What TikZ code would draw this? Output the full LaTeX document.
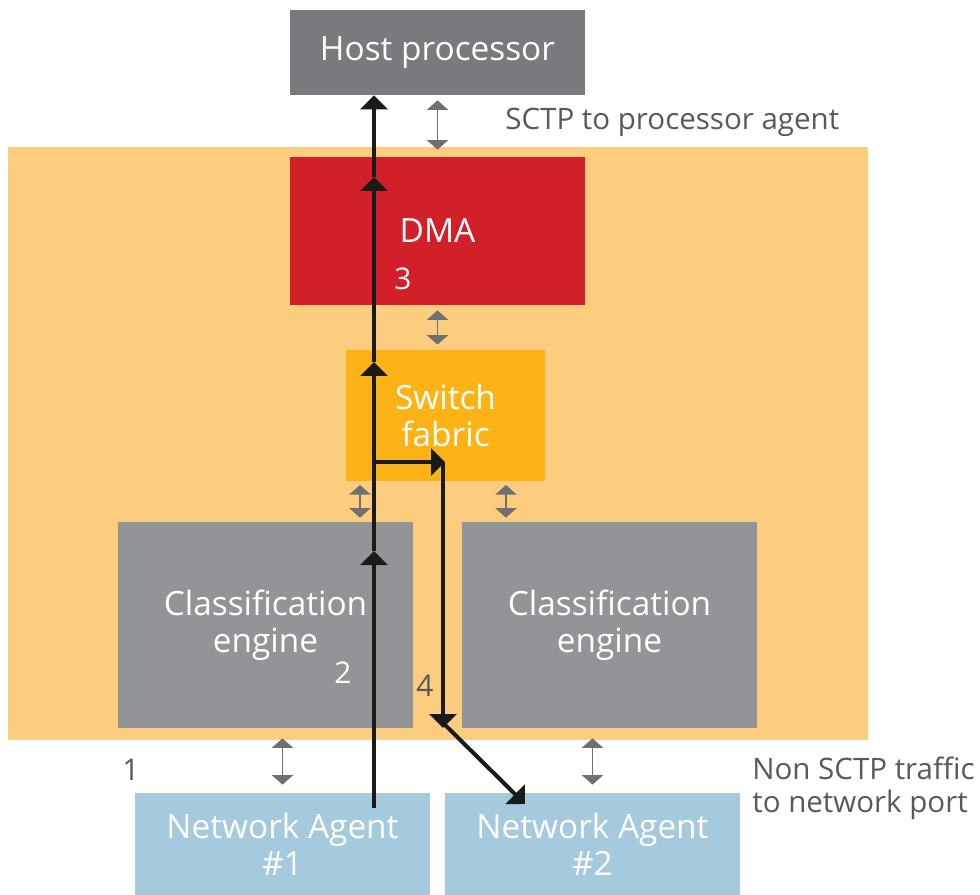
\documentclass[tikz,border=0pt]{standalone}
\usepackage{fontspec}
\setmainfont{Open Sans}
\usetikzlibrary{arrows.meta,positioning}
\definecolor{npOrange}{HTML}{FCCD7F}
\definecolor{npAmber}{HTML}{FDB316}
\definecolor{npRed}{HTML}{D2202A}
\definecolor{npHost}{HTML}{797A7E}
\definecolor{npGray}{HTML}{929497}
\definecolor{npBlue}{HTML}{A5C9DD}
\definecolor{npLink}{HTML}{707070}
\definecolor{npText}{HTML}{58595B}
\definecolor{npFlow}{HTML}{1A1A1A}
\tikzset{
  unitBox/.style={draw=none, inner sep=0pt, minimum width=5.9cm, text=white, align=center, font=\fontsize{19}{21}\selectfont},
  flowArrow/.style={-{Triangle[width=0.54cm,length=0.28cm]}, line width=2.3pt, draw=npFlow},
  linkArrow/.style={{Triangle[width=0.42cm,length=0.19cm]}-{Triangle[width=0.42cm,length=0.19cm]}, line width=1.1pt, draw=npLink},
  noteLabel/.style={font=\fontsize{16.8}{19}\selectfont, text=npText, align=left, anchor=west, inner sep=0pt},
  stepLabel/.style={font=\fontsize{17}{19}\selectfont, inner sep=0pt}
}
\begin{document}
\begin{tikzpicture}[x=0.02cm,y=-0.02cm]
  \useasboundingbox (0,0) rectangle (980,895);
  \fill[npOrange] (8,147) rectangle (868,740);
  % units
  \node[unitBox, fill=npHost, minimum height=1.7cm] (host) at (437.5,52.5) {Host processor};
  \node[unitBox, fill=npRed, minimum height=2.96cm] (dma) at (437.5,231) {DMA};
  \node[unitBox, fill=npAmber, minimum width=3.98cm, minimum height=2.62cm] (fabric) at (445.5,415.5) {Switch\\fabric};
  \node[unitBox, fill=npGray, minimum height=4.12cm] (clsA) at (265.5,625) {Classification\\engine};
  \node[unitBox, fill=npGray, minimum height=4.12cm] (clsB) at (609.5,625) {Classification\\engine};
  \node[unitBox, fill=npBlue, minimum height=2.04cm] (agentA) at (282.5,844) {Network Agent\\\#1};
  \node[unitBox, fill=npBlue, minimum height=2.04cm] (agentB) at (592.5,844) {Network Agent\\\#2};
  % notes and steps
  \node[noteLabel] (sctpNote) at (505,122) {SCTP to processor agent};
  \node[noteLabel] (otherNote) at (752,788) {Non SCTP traffic\\to network port};
  \node[stepLabel, text=npText] (step1) at (131,770) {1};
  \node[stepLabel, text=white] (step2) at (343,673) {2};
  \node[stepLabel, text=white] (step3) at (403,279) {3};
  \node[stepLabel, text=npText] (step4) at (425,686) {4};
  % links between units
  \coordinate (fabA) at (360,481);
  \coordinate (fabB) at (506,481);
  \draw[linkArrow, shorten <=0.1cm, shorten >=0.14cm] (host.south) -- (host.south |- dma.north);
  \draw[linkArrow, shorten <=0.1cm, shorten >=0.1cm] (dma.south) -- (dma.south |- fabric.north);
  \draw[linkArrow, shorten <=0.08cm, shorten >=0.08cm] (fabA) -- (fabA |- clsA.north);
  \draw[linkArrow, shorten <=0.08cm, shorten >=0.08cm] (fabB) -- (fabB |- clsB.north);
  \draw[linkArrow, shorten <=0.2cm, shorten >=0.16cm] (agentA.north |- clsA.south) -- (agentA.north);
  \draw[linkArrow, shorten <=0.2cm, shorten >=0.16cm] (agentB.north |- clsB.south) -- (agentB.north);
  % packet flow
  \coordinate (src) at (374,808);
  \coordinate (hopA) at (374,551);
  \coordinate (hopB) at (374,362);
  \coordinate (hopC) at (374,177);
  \coordinate (split) at (374,462);
  \coordinate (turn) at (445,462);
  \coordinate (drop) at (443,728);
  \coordinate (bend) at (436,716);
  \coordinate (dest) at (525,804);
  \draw[flowArrow] (src) -- (hopA);
  \draw[flowArrow] (hopA) -- (hopB);
  \draw[flowArrow] (hopB) -- (hopC);
  \draw[flowArrow] (hopC) -- (src |- host.south);
  \draw[flowArrow] (split) -- (turn);
  \draw[flowArrow] (443,462) -- (drop);
  \draw[flowArrow] (bend) -- (dest);
\end{tikzpicture}
\end{document}
